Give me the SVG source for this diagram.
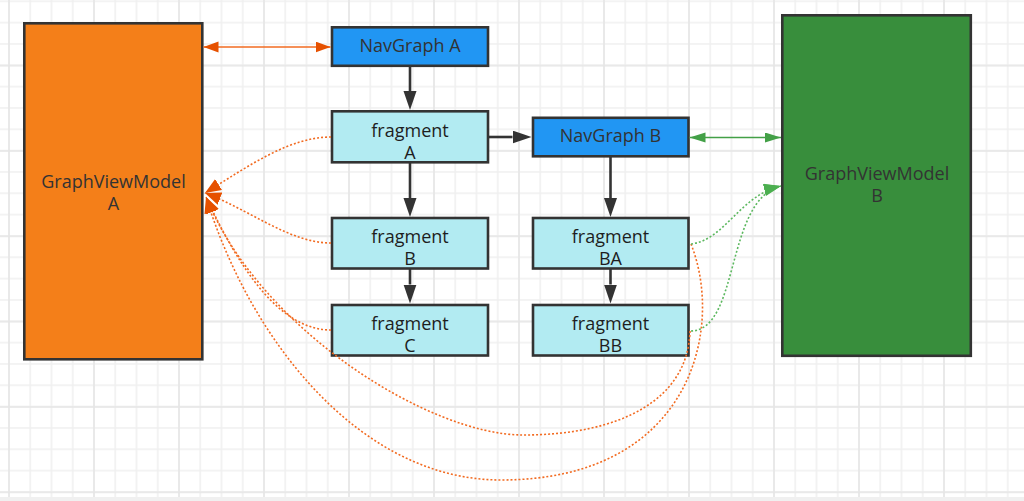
<svg xmlns="http://www.w3.org/2000/svg" width="1024" height="501" viewBox="0 0 1024 501">
<style>
.box{stroke:#333;stroke-width:2.6}
.t{font-family:"Open Sans","Noto Sans",sans-serif;font-size:18px;text-anchor:middle}
.dk{fill:#333}
.bk{fill:#1e1e1e}
.solid{fill:none;stroke:#333;stroke-width:2.6}
.od{fill:none;stroke:#f26b21;stroke-width:1.6;stroke-dasharray:2 2}
.gd{fill:none;stroke:#5cb85f;stroke-width:1.6;stroke-dasharray:2 2}
</style>
<defs>
<pattern id="minor" patternUnits="userSpaceOnUse" x="8" y="0.3" width="21.25" height="21.333">
<path d="M1,0 V21.333 M0,1 H21.25" stroke="#f0f0f0" stroke-width="1.6" fill="none"/>
</pattern>
<pattern id="major" patternUnits="userSpaceOnUse" x="8" y="-20.7" width="85" height="85.333">
<path d="M1,0 V85.333 M0,1 H85" stroke="#e6e6e6" stroke-width="1.6" fill="none"/>
</pattern>
<marker id="ad" markerUnits="userSpaceOnUse" markerWidth="20" markerHeight="14" refX="0" refY="6.5" orient="auto">
<path d="M0,0 L19,6.5 L0,13 z" fill="#333"/>
</marker>
<marker id="ao" markerUnits="userSpaceOnUse" markerWidth="16" markerHeight="12" refX="15" refY="5.5" orient="auto-start-reverse">
<path d="M0,0 L15,5.5 L0,11 z" fill="#e65100"/>
</marker>
<marker id="ag" markerUnits="userSpaceOnUse" markerWidth="17" markerHeight="11" refX="16" refY="5" orient="auto-start-reverse">
<path d="M0,0 L16,5 L0,10 z" fill="#43a047"/>
</marker>
<marker id="aod" markerUnits="userSpaceOnUse" markerWidth="17" markerHeight="14" refX="16" refY="6.5" orient="auto">
<path d="M0,0 L16,6.5 L0,13 z" fill="#e65100"/>
</marker>
<marker id="agd" markerUnits="userSpaceOnUse" markerWidth="18" markerHeight="13" refX="17" refY="6" orient="auto">
<path d="M0,0 L17,6 L0,12 z" fill="#4caf50"/>
</marker>
</defs>
<rect width="1024" height="501" fill="#fff"/>
<rect width="1024" height="501" fill="url(#minor)"/>
<rect width="1024" height="501" fill="url(#major)"/>
<rect x="0" y="497" width="1024" height="4" fill="#f0f0f0"/>

<g id="gvm-a">
<rect class="box" x="24.3" y="23.3" width="178" height="336" fill="#f47f19"/>
<text class="t dk" x="113.5" y="187.5">GraphViewModel</text>
<text class="t dk" x="113.5" y="210">A</text>
</g>
<g id="gvm-b">
<rect class="box" x="782.3" y="15.3" width="188.5" height="340.5" fill="#388e3c"/>
<text class="t dk" x="877" y="179.5">GraphViewModel</text>
<text class="t dk" x="877" y="202">B</text>
</g>
<g id="navgraph-a">
<rect class="box" x="332" y="27.3" width="156" height="38.5" fill="#2196f3"/>
<text class="t dk" x="410" y="52">NavGraph A</text>
</g>
<g id="fragment-a">
<rect class="box" x="332" y="111.3" width="156" height="51" fill="#b2ebf2"/>
<text class="t bk" x="410" y="137">fragment</text>
<text class="t bk" x="410" y="159">A</text>
</g>
<g id="fragment-b">
<rect class="box" x="332" y="218" width="156" height="50.5" fill="#b2ebf2"/>
<text class="t bk" x="410" y="243">fragment</text>
<text class="t bk" x="410" y="265">B</text>
</g>
<g id="fragment-c">
<rect class="box" x="332" y="305" width="156" height="50.5" fill="#b2ebf2"/>
<text class="t bk" x="410" y="330">fragment</text>
<text class="t bk" x="410" y="352">C</text>
</g>
<g id="navgraph-b">
<rect class="box" x="533" y="117.8" width="155.5" height="38.5" fill="#2196f3"/>
<text class="t dk" x="610.5" y="142">NavGraph B</text>
</g>
<g id="fragment-ba">
<rect class="box" x="533" y="218" width="155.5" height="50.5" fill="#b2ebf2"/>
<text class="t bk" x="610.5" y="243">fragment</text>
<text class="t bk" x="610.5" y="265">BA</text>
</g>
<g id="fragment-bb">
<rect class="box" x="533" y="305" width="155.5" height="50.5" fill="#b2ebf2"/>
<text class="t bk" x="610.5" y="330">fragment</text>
<text class="t bk" x="610.5" y="352">BB</text>
</g>

<g id="connectors">
<line x1="203.5" y1="47" x2="330.5" y2="47" stroke="#f26b21" stroke-width="1.6" marker-start="url(#ao)" marker-end="url(#ao)"/>
<line x1="689.5" y1="137.5" x2="781" y2="137.5" stroke="#43a047" stroke-width="1.6" marker-start="url(#ag)" marker-end="url(#ag)"/>
<line class="solid" x1="410" y1="66" x2="410" y2="91" marker-end="url(#ad)"/>
<line class="solid" x1="410" y1="163" x2="410" y2="198" marker-end="url(#ad)"/>
<line class="solid" x1="410" y1="269" x2="410" y2="284.5" marker-end="url(#ad)"/>
<line class="solid" x1="489" y1="137" x2="512.5" y2="137" marker-end="url(#ad)"/>
<line class="solid" x1="610.5" y1="157" x2="610.5" y2="198" marker-end="url(#ad)"/>
<line class="solid" x1="610.5" y1="269" x2="610.5" y2="284.5" marker-end="url(#ad)"/>
<path class="od" d="M331,137 C290,137 250,165 205,193" marker-end="url(#aod)"/>
<path class="od" d="M331,243 C290,243 250,210 205,193" marker-end="url(#aod)"/>
<path class="od" d="M331,330 C280,330 240,270 206,197" marker-end="url(#aod)"/>
<path class="od" d="M690,331 C688,400 620,435 523,435 C430,435 260,330 206,197" marker-end="url(#aod)"/>
<path class="od" d="M691,244 C725,330 690,480 501,480 C360,480 250,340 206,197" marker-end="url(#aod)"/>
<path class="gd" d="M691,244 C725,240 740,195 781,186" marker-end="url(#agd)"/>
<path class="gd" d="M691,331 C740,330 725,200 781,186" marker-end="url(#agd)"/>
</g>
</svg>
